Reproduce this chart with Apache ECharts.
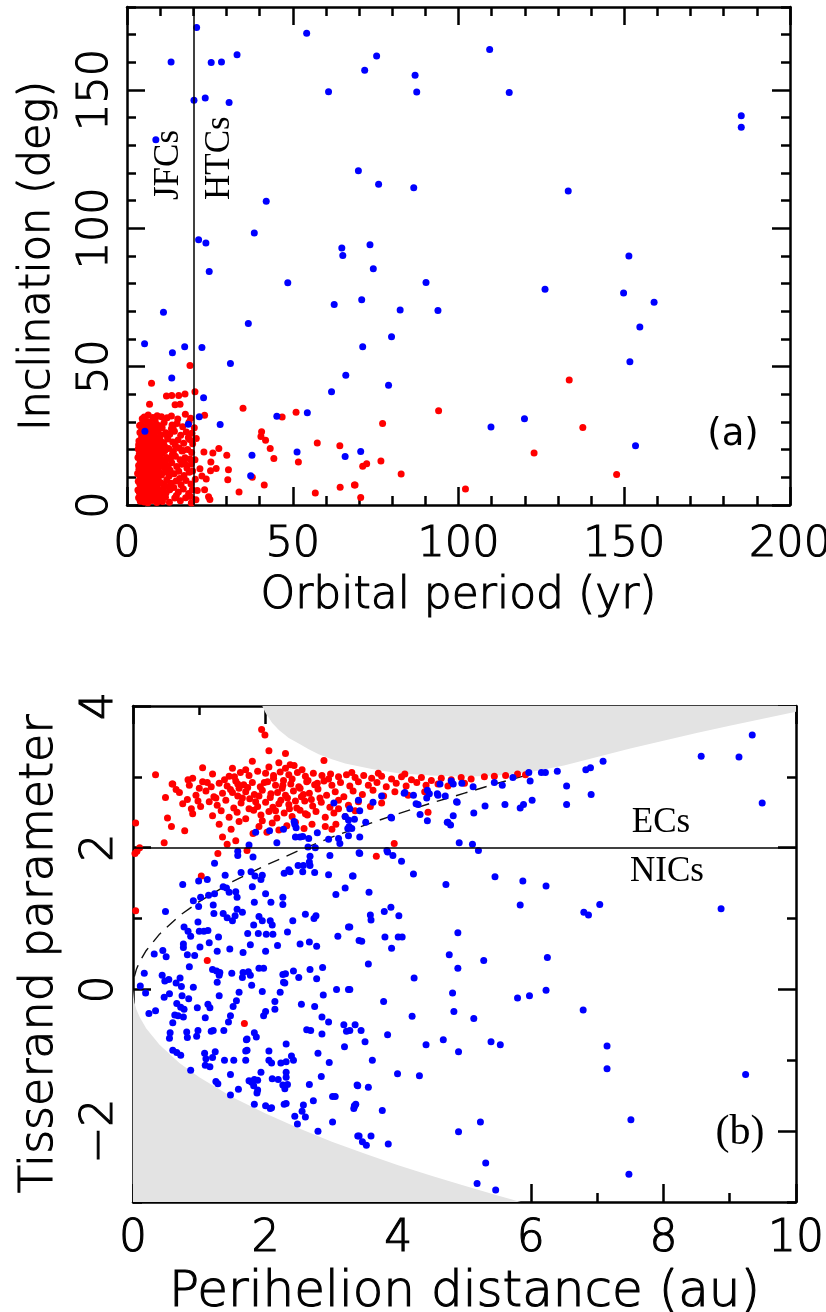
<!DOCTYPE html>
<html>
<head>
<meta charset="utf-8">
<script src="https://cdn.jsdelivr.net/npm/echarts@6/dist/echarts.min.js"></script>
<style>
  html, body { margin: 0; padding: 0; background: #fff; }
  #chart { width: 826px; height: 1312px; }
</style>
</head>
<body>
<div id="chart"></div>
<script>
// ---- panel (a): inclination vs orbital period ----
const periodTicks = [0, 50, 100, 150, 200];
const inclTicks = [0, 50, 100, 150];
const jfcHtcPeriod = 20;

// blue = NICs, red = ECs  [period (yr), inclination (deg)]
const blueA = [
  [21.0,172.6],[54.2,170.5],[13.3,160.1],[25.4,159.9],[28.5,160.1],[33.2,162.7],[20.2,146.3],[23.6,147.1],
  [30.8,145.5],[60.8,149.4],[8.7,132.0],[69.8,120.8],[42.0,109.8],[38.4,98.3],[21.6,95.9],[23.8,94.7],
  [64.8,92.9],[65.1,90.2],[75.3,162.3],[71.7,157.1],[86.9,155.3],[87.4,149.3],[109.4,164.6],[115.3,149.1],
  [185.3,140.7],[185.3,136.5],[75.9,115.9],[86.5,114.7],[133.1,113.5],[73.3,94.1],[151.4,90.0],
  [74.3,85.4],[70.8,74.2],[90.2,80.4],[82.4,70.5],[93.8,70.3],[79.8,60.8],[71.1,57.2],[126.1,78.0],
  [149.8,76.6],[159.0,73.3],[154.7,64.3],[151.7,51.8],[78.9,43.3],[109.8,28.2],[119.9,31.2],[153.4,21.4],
  [70.5,19.3],[24.8,84.4],[48.5,80.3],[62.5,72.5],[11.0,69.7],[36.6,65.6],[5.3,58.3],[13.7,55.0],
  [17.4,57.2],[22.6,56.9],[31.2,51.1],[13.5,45.9],[66.0,46.9],[61.7,40.9],[23.1,38.8],[21.8,31.9],
  [45.2,32.1],[54.4,33.3],[28.1,29.1],[18.5,29.2],[5.4,26.7],[37.7,18.0],[51.3,19.2],[65.8,17.5],[37.3,10.6]
];
const redA = [
  [19.0,50.4],[7.4,44.0],[11.9,39.4],[13.5,39.6],[15.6,39.6],[17.5,40.1],[20.5,40.9],[14.5,36.2],[16.0,36.4],
  [6.8,36.4],[13.4,32.2],[35.0,35.0],[23.4,32.4],[46.8,31.8],[51.0,33.5],[40.6,26.5],[40.4,24.8],[41.8,23.4],
  [27.7,20.4],[43.2,20.4],[44.3,16.8],[30.1,18.0],[25.9,18.8],[23.2,19.2],[25.3,15.5],[26.9,13.2],[25.2,12.4],
  [30.6,12.7],[30.4,9.1],[37.8,10.0],[41.4,7.2],[33.8,4.7],[57.4,22.4],[64.2,21.4],[51.7,15.5],[56.8,4.3],
  [64.3,6.4],[68.6,7.2],[23.4,5.5],[24.6,3.0],[25.0,2.0],[23.9,9.4],[22.6,10.5],[22.0,13.1],
  [133.4,45.2],[94.0,34.1],[77.1,29.5],[137.5,28.0],[122.8,18.8],[76.6,15.9],[71.1,14.0],[72.3,14.9],
  [82.7,11.2],[147.7,11.0],[68.8,7.2],[70.5,2.7],[102.1,5.8],
  [5.2,31.8],[6.4,32.5],[7.8,31.6],[9.1,32.3],[10.4,31.9],[4.6,31.2],[8.5,30.9],[12.1,31.5],[17.6,32.8],[19.2,31.4],
  [4.3,29.1],[5.6,28.4],[6.9,29.6],[7.5,28.1],[8.8,29.3],[9.9,28.6],[11.2,29.8],[13.6,28.9],[15.1,29.5],[16.8,28.3],
  [3.8,28.7],[10.6,27.9],[6.1,30.2],[18.7,29.9],
  [3.9,26.2],[4.8,25.4],[5.9,26.8],[6.7,25.1],[7.3,26.5],[8.1,25.8],[9.4,26.9],[10.2,25.3],[11.7,26.1],[12.9,25.6],
  [14.3,26.7],[16.2,25.2],[17.9,26.4],[19.6,25.9],[4.5,27.3],[8.9,27.4],[13.4,27.6],
  [3.6,23.1],[4.2,22.4],[5.1,23.8],[5.8,22.6],[6.5,24.1],[7.1,22.9],[7.9,23.6],[8.6,22.2],[9.3,24.3],[10.1,23.2],
  [11.0,22.5],[12.3,23.9],[13.8,22.8],[15.4,23.5],[17.1,22.3],[18.9,23.7],[19.8,22.1],[6.2,21.9],[9.8,21.7],
  [3.4,20.2],[4.0,19.5],[4.7,20.8],[5.3,19.2],[6.0,20.6],[6.8,19.8],[7.6,20.9],[8.3,19.4],[9.0,20.3],[9.7,19.1],
  [10.5,20.7],[11.4,19.6],[12.6,20.4],[14.0,19.3],[15.7,20.6],[16.9,19.7],[18.3,20.1],[19.5,19.0],[5.6,21.3],[8.0,18.7],
  [3.3,17.2],[3.9,16.5],[4.4,17.8],[5.0,16.3],[5.5,17.5],[6.3,16.8],[7.0,17.9],[7.7,16.2],[8.4,17.3],[9.2,16.6],
  [10.0,17.7],[10.8,16.1],[11.9,17.2],[13.1,16.7],[14.6,17.6],[16.0,16.4],[17.5,17.1],[19.0,16.6],[6.6,18.3],[4.8,18.6],
  [3.5,14.3],[4.1,13.6],[4.6,14.9],[5.2,13.2],[5.8,14.5],[6.4,13.8],[7.2,15.1],[7.9,13.4],[8.7,14.6],[9.5,13.1],
  [10.3,14.8],[11.2,13.7],[12.4,14.2],[13.5,15.3],[15.0,13.9],[16.5,14.7],[18.1,13.3],[19.4,14.8],[5.9,15.6],[9.0,15.4],
  [3.2,11.4],[3.8,10.6],[4.3,12.1],[4.9,10.3],[5.4,11.7],[6.1,10.9],[6.7,12.3],[7.4,10.4],[8.2,11.6],[8.9,10.1],
  [9.6,12.0],[10.4,10.8],[11.5,11.9],[12.7,10.5],[14.2,11.3],[15.6,12.2],[17.2,10.7],[18.8,11.8],[5.7,12.8],[7.8,12.6],
  [3.4,8.6],[3.9,7.5],[4.5,9.2],[5.0,7.9],[5.6,8.8],[6.2,7.2],[6.9,9.0],[7.5,7.8],[8.1,8.5],[8.8,7.1],
  [9.4,9.3],[10.2,8.0],[11.1,7.4],[12.0,9.1],[13.3,7.9],[14.8,8.7],[16.3,7.3],[17.8,8.9],[19.3,7.6],[4.2,6.9],
  [3.3,5.4],[3.7,4.6],[4.3,6.1],[4.9,4.3],[5.5,5.7],[6.0,4.9],[6.6,6.2],[7.3,4.5],[7.9,5.8],[8.6,4.1],
  [9.3,6.0],[10.1,4.8],[10.9,5.9],[11.8,4.4],[12.9,5.5],[14.1,6.3],[15.5,4.7],[17.0,5.8],[18.6,4.2],[19.7,5.5],
  [3.5,2.6],[4.0,1.4],[4.6,2.9],[5.2,1.1],[5.7,2.3],[6.3,0.8],[6.9,2.7],[7.6,1.6],[8.3,2.4],[9.0,0.9],
  [9.8,2.2],[10.7,1.3],[11.6,2.8],[12.8,1.0],[14.4,2.5],[16.1,1.5],[17.7,2.6],[19.4,0.7],[20.8,1.9],[5.0,3.5],
  [4.4,24.6],[5.4,24.9],[6.9,27.1],[7.7,24.5],[8.4,26.1],[5.1,21.9],[6.5,22.8],[7.3,21.4],[4.5,20.1],[5.7,18.2],
  [7.4,18.9],[8.7,18.4],[4.0,15.5],[6.8,15.4],[7.5,14.1],[8.1,16.9],[4.7,12.7],[6.4,11.8],[7.0,11.1],[8.5,12.9],
  [4.8,8.3],[5.3,9.6],[6.5,8.4],[7.2,6.6],[8.0,9.7],[4.6,5.1],[5.8,3.6],[6.9,3.3],[7.7,2.9],[8.7,3.5],
  [9.4,3.1],[10.5,3.3],[3.6,12.9],[3.7,18.4],[3.5,21.7],[9.7,11.2],[9.9,15.9],[10.7,18.8],[11.3,21.3],[12.2,24.8],
  [11.6,15.6],[13.0,12.6],[13.7,18.3],[14.6,21.4],[15.9,9.6],[16.6,19.5],[17.4,15.0],[18.5,24.3],[19.8,12.3],[19.1,3.1],
  [14.9,3.4],[12.3,6.7],[13.9,27.9],[15.3,31.1],[20.3,27.9],[20.5,16.4],[20.6,9.3],[21.2,5.2],[20.9,24.0]
];

// ---- panel (b): Tisserand parameter vs perihelion distance ----
const qTicks = [0, 2, 4, 6, 8, 10];
const tTicks = [-2, 0, 2, 4];
const ecNicTisserand = 2;

// edges of the forbidden (grey) zones and the dashed curve [q, T]
const upperEdge = [
  [1.95,4.0],[2.0,3.9],[2.1,3.76],[2.2,3.66],[2.35,3.55],[2.5,3.47],[2.65,3.39],[2.8,3.32],[3.0,3.25],[3.2,3.19],
  [3.6,3.11],[4.0,3.05],[4.5,3.02],[5.0,3.0],[5.5,3.02],[6.0,3.07],[6.5,3.16],[7.0,3.28],[7.5,3.4],[8.0,3.51],
  [8.5,3.62],[9.0,3.72],[9.5,3.82],[10.0,3.92]
];
const lowerEdge = [
  [0,0],[0.02,-0.18],[0.05,-0.28],[0.1,-0.39],[0.2,-0.55],[0.4,-0.78],[0.7,-1.04],[1,-1.24],[1.5,-1.52],
  [2,-1.75],[2.5,-1.96],[3,-2.15],[3.5,-2.32],[4,-2.48],[4.5,-2.63],[5,-2.77],[5.5,-2.91],[5.85,-3.0]
];
const dashedCurve = [
  [0.02,0.18],[0.05,0.28],[0.1,0.39],[0.2,0.55],[0.4,0.78],[0.7,1.04],[1,1.24],[1.5,1.52],[2,1.75],
  [2.5,1.96],[3,2.15],[3.5,2.32],[4,2.48],[4.5,2.63],[5,2.77],[5.5,2.91],[6,3.04]
];

const redB = [
  [0.9,2.98],[1.2,3.04],[1.45,3.01],[1.62,3.06],[1.75,3.02],[1.88,3.08],[2.0,3.05],[2.12,3.02],[2.22,3.07],[2.35,3.03],
  [2.48,3.06],[2.6,3.01],[2.72,3.05],[2.85,3.02],[2.98,3.04],[3.1,3.0],[3.22,3.03],[3.35,2.99],[3.48,3.02],[3.6,2.98],
  [3.75,3.01],[3.9,2.97],[4.05,3.0],[4.2,2.96],[4.35,2.99],[4.5,2.95],[4.65,2.98],[4.8,2.96],[4.95,2.99],[5.1,2.97],
  [5.3,3.0],[5.45,3.01],[5.62,3.02],[5.8,3.04],[5.92,3.03],[3.3,3.06],[3.7,3.05],[4.1,3.04],[2.55,3.1],[2.3,3.12],
  [2.05,3.14],[1.5,3.12],
  [0.6,2.9],[0.85,2.88],[1.05,2.93],[1.18,2.86],[1.3,2.91],[1.42,2.87],[1.55,2.94],[1.67,2.89],[1.8,2.92],[1.92,2.86],
  [2.03,2.93],[2.15,2.88],[2.27,2.95],[2.38,2.9],[2.5,2.86],[2.62,2.93],[2.74,2.89],[2.88,2.94],[3.0,2.88],[3.13,2.92],
  [3.27,2.87],[3.4,2.93],[3.55,2.88],[3.68,2.92],[3.82,2.86],[3.97,2.91],[4.12,2.87],[4.28,2.92],[4.42,2.88],[4.6,2.9],
  [4.75,2.87],[5.0,2.91],
  [0.49,2.71],[0.7,2.78],[0.95,2.74],[1.1,2.8],[1.22,2.72],[1.35,2.77],[1.47,2.82],[1.58,2.73],[1.7,2.79],[1.83,2.75],
  [1.95,2.81],[2.07,2.71],[2.18,2.78],[2.3,2.74],[2.42,2.8],[2.54,2.72],[2.66,2.77],[2.79,2.83],[2.92,2.74],[3.05,2.79],
  [3.18,2.72],[3.32,2.8],[3.46,2.75],[3.62,2.81],[3.78,2.73],[3.95,2.79],[4.15,2.74],[4.4,2.79],[1.0,2.84],[1.6,2.84],
  [2.25,2.84],
  [0.75,2.62],[0.82,2.68],[1.02,2.58],[1.15,2.65],[1.27,2.6],[1.4,2.67],[1.52,2.56],[1.63,2.63],[1.76,2.69],[1.88,2.58],
  [2.0,2.64],[2.11,2.57],[2.23,2.67],[2.35,2.61],[2.47,2.56],[2.59,2.66],[2.71,2.59],[2.84,2.64],[2.97,2.57],[3.1,2.67],
  [3.25,2.6],[3.4,2.65],[3.58,2.58],[3.75,2.63],[3.1,2.55],
  [0.52,2.42],[0.9,2.48],[1.2,2.45],[1.33,2.52],[1.45,2.43],[1.57,2.5],[1.7,2.41],[1.82,2.53],[1.93,2.46],[2.05,2.51],
  [2.17,2.42],[2.28,2.49],[2.4,2.44],[2.52,2.53],[2.63,2.46],[2.76,2.51],[2.9,2.43],[3.03,2.49],[3.2,2.44],[3.35,2.52],
  [4.45,2.5],
  [0.58,2.3],[0.78,2.24],[1.3,2.33],[1.48,2.26],[1.6,2.37],[1.81,2.2],[1.9,2.3],[2.1,2.35],[2.2,2.25],[2.32,2.31],
  [2.45,2.36],[2.58,2.27],[2.7,2.33],[2.9,2.3],[3.0,2.26],[3.06,2.33],[2.02,2.22],
  [1.35,2.15],[1.42,2.05],[1.55,2.1],[1.72,1.96],[1.28,1.92],[0.47,2.07],[0.06,1.95],[0.1,2.0],[0.03,1.92],[3.94,2.06],
  [3.67,1.88],[1.03,1.6],[0.04,1.11],[1.12,0.41],[1.68,-0.48],[0.04,2.35],
  [1.94,3.67],[1.99,3.59],[2.05,3.37],[2.88,3.23],[2.3,3.33],[0.34,3.03],[0.59,2.9],[0.83,2.96],[1.8,3.22],[2.2,3.2],
  [2.37,3.17],[2.43,3.16],[1.53,3.0],[1.7,3.1],[1.05,3.13],[0.65,2.82],[0.88,2.55],
  [1.5,2.78],[1.58,2.9],[1.65,2.7],[1.73,2.85],[1.85,2.65],[1.98,2.92],[2.08,2.76],[2.12,2.98],[2.2,2.62],[2.26,2.88],
  [2.33,2.7],[2.4,2.97],[2.45,2.66],[2.52,2.84],[2.57,2.75],[2.64,2.95],[2.69,2.68],[2.78,2.91],[2.82,2.7],[2.95,2.97],
  [1.38,2.96],[1.25,2.7],[1.12,2.92],[0.98,2.66],[1.9,2.73],[2.15,2.52],[2.36,2.55],[2.6,2.48],[1.75,2.55],[1.95,2.38]
];
const blueB = [
  [9.34,3.59],[8.57,3.29],[9.14,3.28],[9.49,2.63],[7.09,3.22],[6.83,3.1],[6.9,3.13],[6.4,3.08],[6.16,3.06],[6.22,3.06],
  [5.97,3.06],[5.73,2.99],[5.57,2.88],[5.45,2.92],[5.99,2.94],[6.54,2.87],[6.91,2.75],[6.54,2.61],[6.02,2.67],[5.89,2.61],
  [5.84,2.56],[5.61,2.61],[5.31,2.59],[5.14,2.49],[5.13,2.86],[4.8,2.94],[4.96,2.91],[4.89,2.64],[4.59,2.76],[4.71,2.73],
  [4.44,2.81],[4.47,2.76],[4.3,2.61],[4.33,2.47],[4.44,2.38],[4.75,2.36],[4.79,2.32],[4.83,2.45],[4.09,2.77],[3.9,2.42],
  [3.62,2.64],[3.75,2.73],[3.27,2.55],[3.2,2.44],[3.26,2.3],[3.25,2.17],[3.51,2.36],[3.42,1.92],[3.84,1.94],[3.92,1.89],
  [4.05,1.81],[4.23,1.63],[4.92,2.07],[5.12,2.05],[5.21,1.96],[4.72,1.48],[5.46,1.59],[5.88,1.53],[6.23,1.46],[5.84,1.19],
  [6.8,1.09],[6.87,1.05],[7.04,1.2],[8.87,1.14],[3.32,1.6],[3.56,1.37],[3.58,1.05],[3.59,0.98],[3.79,1.1],[3.89,1.16],
  [4.01,1.04],[3.8,0.74],[4.0,0.74],[4.06,0.74],[3.45,0.68],[3.9,0.58],[4.9,0.8],[3.27,0.88],
  [4.77,0.49],[5.29,0.41],[6.25,0.45],[4.9,0.3],[3.55,0.36],[4.24,0.16],[3.27,0.0],[3.78,-0.17],[4.82,-0.05],[4.84,-0.31],
  [4.21,-0.38],[5.14,-0.41],[5.8,-0.12],[5.98,-0.09],[6.23,-0.01],[6.79,-0.29],[3.27,-0.58],[3.44,-0.58],[3.5,-0.74],[3.84,-0.64],
  [4.42,-0.78],[4.68,-0.71],[4.91,-0.88],[5.4,-0.74],[5.54,-0.78],[7.15,-0.8],[7.15,-1.12],[9.24,-1.2],[3.61,-1.0],[3.99,-1.19],
  [4.32,-1.22],[3.39,-1.36],[3.55,-1.38],[3.34,-1.65],[3.33,-1.68],[3.76,-1.71],[3.41,-2.07],[3.46,-2.15],[3.52,-2.2],[3.59,-2.07],
  [3.85,-2.18],[4.91,-2.01],[5.24,-1.87],[7.51,-1.84],[5.32,-2.45],[5.19,-2.74],[5.47,-2.83],[7.48,-2.61],
  [3.03,2.63],[3.4,2.67],[3.42,2.52],[3.25,2.39],[3.3,2.27],[3.1,2.13],[3.42,2.15],[3.89,2.43],[2.78,2.21],[2.95,2.12],
  [2.52,2.15],[2.75,2.0],[3.12,2.06],[2.97,1.89],[3.41,1.93],[3.83,1.96],[4.1,2.78],[4.23,2.74],[4.27,2.62],[4.43,2.7],
  [4.6,2.74],[4.83,2.9],[4.88,2.65],[4.74,2.36],[4.63,2.9],
  [2.43,2.37],[2.46,2.28],[2.27,2.26],[2.06,2.24],[1.85,2.22],[2.56,2.16],[2.65,2.13],[1.75,2.04],[2.17,2.07],[1.58,1.95],
  [1.58,1.89],[1.81,1.87],[3.34,2.4],[3.24,2.27],[2.44,2.33],[2.45,2.15],[2.64,2.01],[2.67,1.88],[2.67,1.75],[2.57,1.75],
  [2.49,1.75],[2.37,1.66],[1.23,1.78],[1.84,1.6],
  [1.39,1.61],[0.99,1.53],[1.12,1.55],[0.75,1.48],[1.63,1.65],[1.78,1.66],[1.95,1.61],[2.28,1.64],[2.35,1.69],[2.56,1.66],
  [2.66,1.8],[2.74,1.65],[2.95,1.62],[3.31,1.6],[1.36,1.45],[1.41,1.43],[1.23,1.35],[1.14,1.33],[1.02,1.3],[0.91,1.25],
  [1.45,1.37],[1.55,1.38],[1.57,1.3],[1.8,1.45],[1.93,1.55],[2.0,1.35],[1.83,1.23],[2.08,1.23],[2.26,1.3],[2.26,1.2],
  [0.49,1.1],[0.99,1.17],[1.21,1.19],[1.57,1.13],[1.22,1.07],[1.36,1.07],[1.42,1.01],[1.5,0.97],[1.54,1.04],[1.65,1.09],
  [1.9,1.03],[1.95,0.97],[1.89,0.79],[2.01,0.78],[2.11,0.78],[2.07,0.97],[2.1,0.91],[1.82,0.91],[1.73,0.79],[2.41,0.97],
  [2.33,0.81],[2.6,1.06],[2.73,1.0],[2.76,1.04],[3.06,1.34],[3.2,1.43],[3.25,0.88],[3.09,0.75],[3.41,0.69],[0.77,0.88],
  [0.83,0.82],[0.87,0.75],[0.98,0.95],[1.0,0.82],[1.07,0.82],[1.13,0.83],[1.29,0.74],[1.15,0.66],[0.76,0.64],[0.76,0.59],
  [1.01,0.6],[0.82,0.49],[0.93,0.48],[0.5,0.46],[0.45,0.55],[0.32,0.5],[1.46,0.57],[1.27,0.54],[1.66,0.52],[1.77,0.63],
  [2.0,0.54],[2.18,0.62],[2.52,0.64],[2.66,0.67],[2.77,0.61],[0.85,0.32],[1.2,0.28],[1.26,0.26],[1.31,0.24],[1.3,0.2],
  [1.9,0.3],[1.97,0.3],[2.26,0.21],[2.3,0.22],[2.27,0.1],[2.29,0.09],[2.42,0.26],[2.67,0.28],[2.86,0.31],[2.77,0.15],
  [2.5,0.17],[1.66,0.24],[1.74,0.25],[1.77,0.2],[1.65,0.17],[1.49,0.23],[1.27,0.1],[0.71,0.16],[0.73,0.04],[0.44,0.2],
  [0.48,0.12],[0.54,0.14],[0.17,0.23],[0.11,0.05],[0.19,-0.05],[0.65,0.09],[0.91,0.03],[0.74,-0.09],[0.84,-0.13],[0.47,-0.11],
  [0.55,-0.06],[0.66,-0.2],[0.72,-0.25],[0.77,-0.28],[0.68,-0.37],[0.76,-0.39],[0.63,-0.36],[0.97,-0.26],[1.13,-0.21],[1.16,-0.26],
  [1.09,-0.4],[1.3,-0.09],[1.56,-0.16],[1.51,-0.24],[1.47,-0.37],[1.44,-0.46],[1.6,-0.04],[1.79,0.06],[1.95,-0.03],[2.14,-0.17],
  [2.14,-0.28],[2.0,-0.31],[1.97,-0.37],[2.22,-0.04],[2.54,-0.21],[2.74,-0.24],[2.87,-0.08],[3.07,0.0],[3.25,0.0],[2.85,-0.39],
  [2.95,-0.46],[3.18,-0.5],[3.22,-0.59],[3.35,-0.5],[2.68,-0.58],[2.62,-0.57],[2.85,-0.63],[1.83,-0.61],[1.86,-0.67],[1.72,-0.7],
  [1.37,-0.58],[1.18,-0.59],[1.21,-0.58],[0.98,-0.58],[0.96,-0.66],[0.82,-0.68],[0.6,-0.47],[0.56,-0.61],[0.34,-0.3],[0.24,-0.34],
  [0.55,-0.69],[0.81,-0.6],[0.6,-0.86],[0.66,-0.89],[0.72,-0.93],[0.87,-1.14],[1.08,-0.9],[1.1,-0.98],[1.09,-1.07],[1.16,-1.09],
  [1.2,-0.96],[1.24,-0.88],[1.38,-1.0],[1.52,-1.0],[1.7,-0.87],[1.7,-1.0],[1.71,-0.71],[1.47,-1.2],[1.25,-1.3],[1.28,-1.33],
  [1.59,-1.41],[1.47,-1.49],[1.75,-1.29],[1.83,-1.27],[1.79,-1.31],[1.88,-1.28],[1.82,-1.36],[1.88,-1.42],[1.87,-1.46],[1.83,-1.62],
  [1.93,-1.17],[2.05,-1.0],[2.09,-1.04],[2.05,-0.87],[2.1,-1.26],[2.19,-1.27],[2.31,-1.17],[2.31,-1.24],[2.23,-1.04],[2.31,-1.02],
  [2.31,-0.77],[2.39,-0.94],[2.42,-1.0],[2.26,-1.35],[2.29,-1.4],[2.33,-1.34],[2.0,-1.64],[2.07,-1.68],[2.09,-1.67],[2.28,-1.62],
  [2.31,-1.61],[2.57,-1.63],[2.72,-1.57],[2.44,-1.79],[2.48,-1.9],[2.55,-1.72],[2.6,-1.8],[2.66,-1.34],[2.79,-0.9],[2.84,-1.23],
  [2.96,-1.03],[2.79,-2.0],[3.01,-1.87],[3.01,-1.51],[3.05,-1.51],[3.19,-0.81],[3.38,-1.35],[3.34,-1.64],[3.36,-1.62],[3.39,-2.07],
  [1.72,-0.86]
];

// ---- styling helpers ----
const ink = '#000';
const sans = 'DejaVu Sans';
const serif = 'Liberation Serif';
const minus = v => String(v).replace('-', '\u2212');

// thin sans text, thickened a little with a stroke
function thinText(size) {
  return { color: ink, fontFamily: sans, fontSize: size, fontWeight: 300, textBorderColor: ink, textBorderWidth: 1.1 };
}

// major axis: frame line + long inward ticks (+ labels if asked)
function majorAxis(grid, pos, min, max, ticks, lab) {
  const a = {
    gridIndex: grid, type: 'value', position: pos, min: min, max: max,
    axisLine: { show: true, onZero: false, lineStyle: { color: ink, width: 2.5 } },
    axisTick: { show: true, inside: true, length: 18, customValues: ticks, lineStyle: { color: ink, width: 2.5 } },
    axisLabel: { show: false },
    splitLine: { show: false },
    nameMoveOverlap: false
  };
  if (lab) {
    a.axisLabel = Object.assign(thinText(lab.size), {
      show: true, customValues: ticks, margin: lab.margin, rotate: lab.rotate || 0, formatter: minus
    });
    a.name = lab.name;
    a.nameLocation = 'middle';
    a.nameGap = lab.nameGap;
    a.nameTextStyle = thinText(lab.nameSize);
  }
  return a;
}
// minor axis: short inward ticks only
function minorAxis(grid, pos, min, max, step) {
  return {
    gridIndex: grid, type: 'value', position: pos, min: min, max: max, interval: step,
    axisLine: { show: false, onZero: false },
    axisTick: { show: true, inside: true, length: 9, lineStyle: { color: ink, width: 2.5 } },
    axisLabel: { show: false },
    splitLine: { show: false }
  };
}
function note(text, x, y, family, size, rot) {
  const el = {
    type: 'text', x: x, y: y,
    style: {
      text: text, fill: ink, fontFamily: family, fontSize: size, fontWeight: 'normal',
      textAlign: rot ? 'left' : 'center', textVerticalAlign: 'middle'
    }
  };
  if (rot) el.rotation = Math.PI / 2;
  return el;
}

const chart = echarts.init(document.getElementById('chart'), null, { renderer: 'canvas' });

const option = {
  animation: false,
  backgroundColor: '#fff',
  grid: [
    { left: 127, top: 7, width: 663, height: 498, outerBoundsMode: 'none' },
    { left: 133, top: 706, width: 663, height: 496, outerBoundsMode: 'none' }
  ],
  xAxis: [
    majorAxis(0, 'bottom', 0, 200, periodTicks, { size: 43, nameSize: 44, margin: 18, name: 'Orbital period (yr)', nameGap: 70 }),
    minorAxis(0, 'bottom', 0, 200, 10),
    majorAxis(0, 'top', 0, 200, periodTicks),
    minorAxis(0, 'top', 0, 200, 10),
    majorAxis(1, 'bottom', 0, 10, qTicks, { size: 44, nameSize: 50, margin: 16, name: 'Perihelion distance (au)', nameGap: 66 }),
    minorAxis(1, 'bottom', 0, 10, 1),
    majorAxis(1, 'top', 0, 10, qTicks),
    minorAxis(1, 'top', 0, 10, 1)
  ],
  yAxis: [
    majorAxis(0, 'left', 0, 180, inclTicks, { size: 43, nameSize: 43, margin: 10, rotate: 90, name: 'Inclination (deg)', nameGap: 68 }),
    minorAxis(0, 'left', 0, 180, 10),
    majorAxis(0, 'right', 0, 180, inclTicks),
    minorAxis(0, 'right', 0, 180, 10),
    majorAxis(1, 'left', -3, 4, tTicks, { size: 44, nameSize: 46, margin: 10, rotate: 90, name: 'Tisserand parameter', nameGap: 70 }),
    minorAxis(1, 'left', -3, 4, 1),
    majorAxis(1, 'right', -3, 4, tTicks),
    minorAxis(1, 'right', -3, 4, 1)
  ],
  series: [
    // panel (a)
    {
      type: 'scatter', xAxisIndex: 0, yAxisIndex: 0, data: redA, symbolSize: 7,
      itemStyle: { color: '#ff0000', opacity: 1 }, z: 3, silent: true,
      markLine: {
        silent: true, symbol: 'none', label: { show: false },
        lineStyle: { color: ink, width: 1.5, type: 'solid' },
        data: [{ xAxis: jfcHtcPeriod }]
      }
    },
    {
      type: 'scatter', xAxisIndex: 0, yAxisIndex: 0, data: blueA, symbolSize: 7,
      itemStyle: { color: '#0000ff', opacity: 1 }, z: 4, silent: true
    },
    // panel (b)
    {
      type: 'line', xAxisIndex: 4, yAxisIndex: 4, data: upperEdge, showSymbol: false, silent: true,
      lineStyle: { width: 0 }, areaStyle: { origin: 'end', color: '#e3e3e3', opacity: 1 }, z: 1
    },
    {
      type: 'line', xAxisIndex: 4, yAxisIndex: 4, data: lowerEdge, showSymbol: false, silent: true,
      lineStyle: { width: 0 }, areaStyle: { origin: 'start', color: '#e3e3e3', opacity: 1 }, z: 1
    },
    {
      type: 'line', xAxisIndex: 4, yAxisIndex: 4, data: dashedCurve, showSymbol: false, silent: true,
      lineStyle: { color: '#111', width: 1.4, type: [12, 8] }, z: 2
    },
    {
      type: 'scatter', xAxisIndex: 4, yAxisIndex: 4, data: redB, symbolSize: 7,
      itemStyle: { color: '#ff0000', opacity: 1 }, z: 3, silent: true,
      markLine: {
        silent: true, symbol: 'none', label: { show: false },
        lineStyle: { color: ink, width: 1.5, type: 'solid' },
        data: [{ yAxis: ecNicTisserand }]
      }
    },
    {
      type: 'scatter', xAxisIndex: 4, yAxisIndex: 4, data: blueB, symbolSize: 7,
      itemStyle: { color: '#0000ff', opacity: 1 }, z: 4, silent: true
    }
  ],
  graphic: [
    note('JFCs', 169, 200, serif, 35, true),
    note('HTCs', 220, 200, serif, 35, true),
    note('(a)', 733, 435, sans, 37),
    note('ECs', 661, 823, serif, 35),
    note('NICs', 667, 872, serif, 35),
    note('(b)', 740, 1133, serif, 42)
  ]
};

chart.setOption(option);
window.onresize = chart.resize;
</script>
</body>
</html>
